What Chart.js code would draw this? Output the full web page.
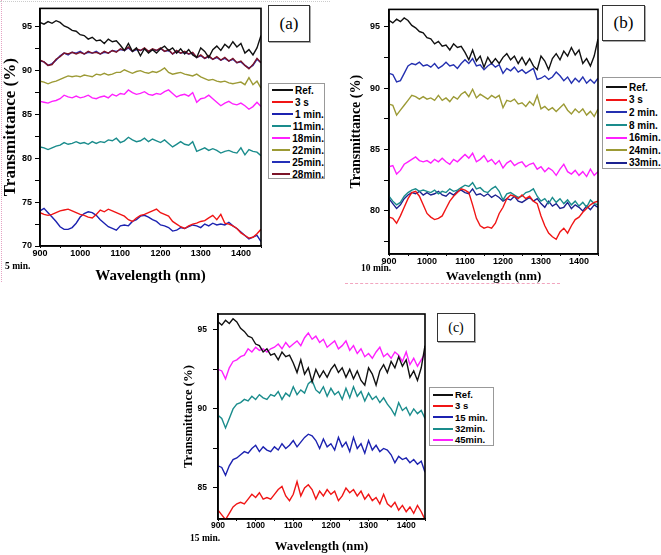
<!DOCTYPE html>
<html>
<head>
<meta charset="utf-8">
<script src="https://cdn.jsdelivr.net/npm/chart.js@4.4.1/dist/chart.umd.min.js"></script>
<style>
  body { margin: 0; background: #fff; width: 661px; height: 555px; position: relative; overflow: hidden; }
  canvas { position: absolute; }
  .tag { position: absolute; box-sizing: border-box; border: 1px solid #333; background: #fff; box-shadow: 1px 1px 0 #aaa;
         font-family: "Liberation Serif", "Times New Roman", serif; color: #000; text-align: center; }
  .leg { position: absolute; box-sizing: border-box; border: 1px solid #999; background: #fff; color: #000;
         font-family: "Liberation Sans", Arial, sans-serif; font-weight: bold; }
  .leg .row { display: flex; align-items: center; white-space: nowrap; }
  .leg .sw { display: inline-block; height: 0; border-top: 2px solid; }
  .nota { position: absolute; font: bold 9.5px "Liberation Serif", "Times New Roman", serif; color: #000; white-space: nowrap; }
</style>
</head>
<body>
<div style="position:absolute;left:1px;top:0;height:282px;border-left:1px dotted #e6a3c3"></div>
<div style="position:absolute;left:0;top:1px;width:330px;border-top:1px dotted #ccc"></div>
<div style="position:absolute;left:345px;top:283px;width:215px;border-top:1px dashed #f2a5bf"></div>

<canvas id="graficoA" width="262" height="285" style="left:0;top:0"></canvas>
<canvas id="graficoB" width="251" height="284" style="left:348px;top:0"></canvas>
<canvas id="graficoC" width="245" height="254" style="left:181px;top:300px"></canvas>

<div class="tag" style="left:268px;top:5px;width:42px;height:37px;font-size:17px;line-height:35px">(a)</div>
<div class="tag" style="left:602px;top:5px;width:43px;height:36px;font-size:17px;line-height:34px">(b)</div>
<div class="tag" style="left:437px;top:313px;width:38px;height:29px;font-size:14px;line-height:27px">(c)</div>

<div class="leg" id="legendaA" style="left:268px;top:83px;width:57px;height:96px;font-size:10px"></div>
<div class="leg" id="legendaB" style="left:602px;top:77px;width:62px;height:92px;font-size:10px;padding-top:3px"></div>
<div class="leg" id="legendaC" style="left:429px;top:387px;width:65px;height:59px;font-size:9.5px;padding-top:1px"></div>

<div class="nota" style="left:5px;top:261px">5 min.</div>
<div class="nota" style="left:361px;top:263px">10 min.</div>
<div class="nota" style="left:190px;top:533px">15 min.</div>

<script>
const wl = [900, 910, 920, 930, 940, 950, 960, 970, 980, 990,
  1000, 1010, 1020, 1030, 1040, 1050, 1060, 1070, 1080, 1090,
  1100, 1110, 1120, 1130, 1140, 1150, 1160, 1170, 1180, 1190,
  1200, 1210, 1220, 1230, 1240, 1250, 1260, 1270, 1280, 1290,
  1300, 1310, 1320, 1330, 1340, 1350, 1360, 1370, 1380, 1390,
  1400, 1410, 1420, 1430, 1440, 1450]

const ref = [95.5, 95.3, 95.6, 95.4, 95.7, 95.5, 95.1, 94.9, 94.6, 94.5,
  94.1, 94.0, 93.6, 93.8, 93.4, 93.5, 93.1, 93.6, 93.3, 93.4,
  92.9, 92.3, 93.1, 92.2, 92.6, 91.7, 92.5, 92.0, 92.4, 92.0,
  92.5, 92.8, 92.3, 92.6, 92.0, 92.5, 91.9, 92.4, 91.8, 91.5,
  92.6, 92.2, 91.5, 92.4, 92.8, 92.3, 93.0, 92.6, 93.3, 92.7,
  93.1, 92.0, 92.4, 91.8, 92.6, 94.0]

// painel (a)
const a3s = [73.8, 73.6, 73.5, 73.6, 73.8, 74.0, 74.1, 74.2, 74.0, 73.8,
  73.6, 73.5, 73.3, 73.2, 73.6, 74.1, 73.9, 74.2, 74.0, 73.8,
  73.6, 73.4, 73.0, 72.8, 73.2, 73.5, 73.6, 73.8, 74.0, 74.2,
  73.8, 73.6, 73.4, 72.8, 72.5, 72.2, 72.0, 72.3, 72.5, 72.6,
  72.8, 72.9, 73.2, 73.5, 73.0, 73.6, 72.6, 72.5, 72.3, 72.0,
  71.5, 71.2, 70.9, 71.0, 71.4, 71.9]
const a1min = [74.0, 74.3, 73.8, 73.3, 72.8, 72.2, 71.9, 71.9, 72.1, 72.6,
  73.3, 73.7, 73.9, 73.8, 73.5, 73.0, 72.6, 72.2, 72.0, 71.8,
  72.3, 72.4, 72.3, 72.8, 73.0, 73.4, 73.5, 73.3, 73.0, 72.8,
  72.4, 72.3, 72.1, 71.7, 71.8, 72.1, 72.0, 72.2, 72.4, 72.3,
  72.1, 72.5, 72.3, 72.6, 72.4, 72.5, 72.4, 72.7, 72.3, 72.0,
  71.6, 71.2, 70.8, 71.0, 71.2, 70.5]
const a11min = [81.3, 81.2, 81.0, 81.2, 81.4, 81.5, 81.8, 81.6, 81.7, 81.9,
  81.7, 81.8, 81.6, 81.9, 81.7, 81.9, 81.8, 82.1, 82.0, 82.3,
  81.8, 82.0, 82.4, 82.1, 81.9, 82.0, 82.3, 81.9, 82.2, 82.0,
  81.8, 82.1, 81.7, 81.3, 81.6, 81.9, 81.6, 81.5, 81.9, 80.8,
  81.0, 81.2, 80.9, 81.1, 80.9, 80.6, 80.8, 80.9, 80.7, 80.6,
  81.2, 80.4, 81.0, 80.8, 80.7, 80.3]
const a18min = [86.5, 86.4, 86.3, 86.5, 86.6, 86.8, 87.2, 87.0, 86.9, 87.1,
  86.9, 87.0, 87.2, 86.9, 86.8, 87.0, 87.1, 86.9, 87.3, 87.1,
  87.4, 87.3, 87.8, 87.5, 87.3, 87.4, 87.6, 87.3, 87.2, 87.4,
  87.3, 87.6, 87.8, 87.4, 87.0, 87.2, 87.3, 87.1, 87.5, 86.4,
  86.8, 86.9, 87.2, 86.8, 86.4, 86.0, 86.3, 86.5, 86.2, 86.1,
  86.3, 86.0, 85.6, 85.9, 86.4, 85.9]
const a22min = [88.8, 88.7, 88.5, 88.7, 88.8, 89.0, 89.2, 89.4, 89.3, 89.4,
  89.3, 89.5, 89.4, 89.3, 89.6, 89.5, 89.7, 89.5, 89.6, 89.8,
  89.8, 90.1, 89.9, 89.7, 89.9, 90.0, 89.8, 89.7, 89.9, 89.8,
  90.0, 90.3, 89.8, 89.6, 89.7, 89.8, 89.6, 89.5, 89.4, 89.6,
  89.3, 89.1, 88.9, 89.0, 88.8, 88.7, 88.8, 88.6, 88.5, 88.6,
  88.7, 88.4, 89.2, 88.4, 88.8, 88.0]
const a25min = [91.1, 91.0, 90.6, 90.8, 91.2, 91.7, 92.0, 91.8, 92.1, 92.0,
  92.2, 91.9, 92.1, 92.0, 92.2, 91.9, 92.1, 92.0, 92.3, 92.2,
  92.4, 92.3, 92.6, 92.2, 92.4, 92.3, 92.5, 92.2, 92.4, 92.3,
  92.5, 92.2, 92.3, 91.9, 92.2, 92.0, 92.1, 91.9, 92.0, 91.5,
  91.7, 91.4, 91.6, 91.3, 91.5, 91.2, 91.4, 91.1, 91.3, 90.9,
  91.0, 90.6, 90.3, 90.6, 91.3, 90.9]
const a28min = [91.2, 91.0, 90.6, 90.7, 91.3, 91.6, 92.0, 91.9, 92.1, 91.9,
  92.1, 91.9, 92.2, 92.0, 92.1, 91.9, 92.2, 92.0, 92.3, 92.1,
  92.5, 92.3, 92.7, 92.2, 92.5, 92.3, 92.6, 92.2, 92.5, 92.3,
  92.6, 92.2, 92.4, 91.9, 92.3, 92.0, 92.2, 91.9, 92.1, 91.5,
  91.8, 91.4, 91.7, 91.3, 91.6, 91.2, 91.5, 91.1, 91.4, 90.9,
  91.1, 90.6, 90.2, 90.7, 91.4, 90.9]

// painel (b)
const b3s = [79.5, 79.4, 79.0, 79.6, 80.3, 81.0, 81.5, 81.6, 81.2, 80.5,
  79.8, 79.5, 79.3, 79.4, 79.6, 80.2, 80.8, 81.2, 81.5, 81.8,
  81.7, 81.5, 80.5, 79.4, 78.8, 78.6, 78.7, 78.6, 79.0, 79.8,
  80.3, 81.0, 81.3, 81.2, 81.0, 81.3, 81.0, 81.2, 80.8, 80.6,
  79.6, 78.8, 78.2, 77.9, 77.7, 78.3, 78.6, 78.2, 78.8, 79.3,
  79.5, 79.9, 80.2, 80.5, 80.7, 80.8]
const b2min = [91.2, 91.1, 90.5, 90.6, 91.2, 91.8, 92.0, 91.9, 92.1, 91.8,
  91.9, 91.7, 92.0, 91.6, 91.8, 92.1, 91.8, 91.9, 91.6, 92.0,
  92.3, 92.0, 92.4, 91.8, 91.9, 91.5, 91.8, 92.0, 91.7, 91.9,
  91.2, 91.6, 91.4, 91.7, 91.3, 91.5, 91.2, 91.4, 91.6, 90.7,
  90.8, 91.0, 90.7, 90.9, 91.3, 91.0, 90.6, 90.9, 90.4, 90.8,
  90.5, 90.9, 90.4, 90.7, 90.4, 90.8]
const b8min = [81.2, 80.8, 80.5, 80.7, 81.2, 81.5, 81.7, 81.8, 81.6, 81.7,
  81.6, 81.5, 81.7, 81.4, 81.6, 81.5, 81.8, 81.6, 81.7, 81.9,
  82.1, 82.0, 82.3, 81.8, 81.9, 81.6, 81.5, 81.8, 82.0, 81.6,
  80.9, 81.4, 81.5, 81.3, 81.1, 81.2, 81.5, 81.6, 81.8, 81.2,
  80.8, 81.0, 80.6, 81.1, 80.7, 81.0, 80.6, 80.9, 80.5, 80.8,
  80.4, 80.7, 80.3, 80.9, 80.6, 80.5]
const b16min = [83.6, 83.7, 83.0, 83.3, 83.8, 84.0, 84.2, 84.4, 84.1, 84.0,
  84.1, 83.9, 84.2, 84.0, 84.3, 84.0, 83.8, 84.2, 84.0, 84.3,
  84.6, 84.3, 84.7, 84.0, 84.2, 84.5, 84.0, 84.2, 83.8, 84.1,
  83.5, 83.9, 84.1, 83.7, 83.9, 84.0, 83.6, 83.8, 83.9, 83.4,
  83.6, 83.2, 83.5, 83.3, 82.9, 83.4, 83.8, 83.2, 83.0, 83.3,
  82.9, 83.2, 82.8, 83.4, 82.9, 83.2]
const b24min = [88.7, 88.6, 87.8, 88.2, 88.6, 89.0, 89.4, 89.3, 89.1, 89.3,
  89.1, 89.2, 89.0, 89.4, 89.0, 89.2, 88.9, 89.3, 89.1, 89.5,
  89.7, 89.3, 89.9, 89.2, 89.5, 89.3, 89.1, 89.4, 89.2, 89.4,
  88.4, 89.0, 88.9, 89.1, 88.7, 88.8, 88.5, 88.9, 88.6, 89.4,
  88.3, 88.5, 88.2, 88.4, 88.1, 88.4, 88.7, 88.2, 87.9, 88.3,
  88.0, 88.3, 87.8, 88.1, 87.7, 88.3]
const b33min = [81.0, 80.6, 80.2, 80.5, 81.0, 81.3, 81.5, 81.4, 81.6, 81.3,
  81.5, 81.3, 81.4, 81.6, 81.3, 81.2, 81.5, 81.3, 81.6, 81.7,
  81.5, 81.4, 81.8, 81.3, 81.4, 81.2, 81.4, 81.1, 81.3, 81.1,
  80.8, 81.0, 80.9, 81.2, 80.8, 80.7, 80.9, 81.1, 80.8, 81.0,
  80.6, 80.3, 80.8, 80.4, 80.6, 80.2, 80.3, 80.7, 80.2, 80.5,
  80.3, 80.0, 80.4, 80.1, 80.5, 80.3]

// painel (c)
const c3s = [83.6, 83.3, 83.0, 83.4, 83.8, 84.0, 84.1, 84.0, 84.3, 84.6,
  84.4, 84.7, 84.3, 84.4, 84.3, 84.6, 84.9, 85.1, 84.5, 84.2,
  84.6, 85.4, 84.5, 85.0, 85.2, 84.9, 84.3, 84.8, 84.5, 84.9,
  84.6, 84.8, 84.2, 84.5, 85.0, 84.7, 84.9, 84.5, 84.8, 84.3,
  84.6, 84.2, 84.4, 84.0, 84.6, 84.0, 83.8, 84.1, 83.6, 83.9,
  83.5, 83.8, 83.4, 83.9, 83.5, 83.0]
const c15min = [86.4, 86.3, 85.8, 86.4, 86.8, 86.9, 87.1, 87.3, 87.2, 87.5,
  87.7, 87.3, 87.6, 87.4, 87.3, 87.6, 87.4, 87.8, 87.5, 87.7,
  88.0, 87.6, 87.9, 88.2, 88.4, 88.3, 88.0, 87.5, 88.1, 87.6,
  87.8, 87.4, 88.2, 87.6, 87.9, 87.3, 88.2, 87.5, 87.8, 87.2,
  88.0, 87.4, 87.7, 87.3, 87.5, 87.4, 87.1, 86.6, 87.0, 86.8,
  86.9, 86.6, 86.8, 86.5, 86.7, 86.0]
const c32min = [89.6, 89.4, 88.8, 89.4, 90.0, 90.3, 90.4, 90.6, 90.5, 90.8,
  90.6, 90.9, 90.7, 90.6, 90.9, 90.8, 91.1, 90.6, 91.0, 90.8,
  91.4, 90.9, 91.2, 91.0, 91.6, 91.8, 91.2, 91.0, 91.4, 90.8,
  91.3, 90.9, 91.1, 90.6, 91.3, 90.7, 91.4, 90.8, 91.1, 90.5,
  91.0, 90.6, 90.8, 90.4, 90.7, 90.3, 90.0, 89.6, 90.4, 89.9,
  90.1, 89.6, 90.0, 89.7, 89.9, 89.4]
const c45min = [92.5, 92.4, 91.9, 92.6, 93.0, 93.1, 93.3, 93.4, 93.8, 93.6,
  93.9, 93.7, 93.8, 93.6, 93.8, 93.9, 94.1, 93.8, 94.2, 93.9,
  94.1, 94.3, 94.0, 94.5, 94.8, 94.4, 94.6, 94.2, 94.4, 93.9,
  94.1, 94.3, 93.8, 94.0, 94.3, 93.7, 94.0, 93.5, 93.8, 93.3,
  93.5, 93.2, 93.6, 93.9, 93.3, 93.5, 93.2, 93.6, 93.4, 93.0,
  93.6, 92.8, 93.2, 92.7, 93.1, 93.5]

const serif = '"Liberation Serif", "Times New Roman", serif'
const sans = '"Liberation Sans Narrow", "Liberation Sans", Arial, sans-serif'

function pontos(ys) {
  return ys.map((y, i) => ({ x: wl[i], y: y }))
}

const moldura = {
  id: 'moldura',
  afterDatasetsDraw(chart) {
    const { ctx, chartArea: a } = chart
    ctx.save()
    ctx.strokeStyle = '#000'
    ctx.lineWidth = 1.6
    ctx.strokeRect(a.left, a.top, a.right - a.left, a.bottom - a.top)
    ctx.restore()
  }
}

function criaGrafico(id, series, cfg) {
  return new Chart(document.getElementById(id), {
    type: 'line',
    data: {
      datasets: series.map(s => ({
        label: s[0],
        data: pontos(s[1]),
        borderColor: s[2],
        order: s[3] || 0,
        borderWidth: 1.4,
        pointRadius: 0,
        tension: 0,
        fill: false,
      })),
    },
    options: {
      responsive: false,
      animation: false,
      events: [],
      layout: { padding: cfg.pad },
      plugins: { legend: { display: false }, tooltip: { enabled: false } },
      scales: {
        x: {
          type: 'linear',
          min: 900,
          max: 1450,
          afterFit: s => { s.height = cfg.xh },
          grid: { drawOnChartArea: false, tickLength: 2, tickColor: '#000' },
          border: { color: '#000', width: 1.6 },
          ticks: {
            stepSize: 50, autoSkip: false, maxRotation: 0, padding: 0, color: '#000',
            font: { family: sans, weight: 'bold', size: cfg.tf },
            callback: v => v % 100 === 0 ? v : '',
          },
          title: {
            display: true, text: 'Wavelength (nm)', color: '#000', padding: 0,
            font: { family: serif, weight: 'bold', size: cfg.xt },
          },
        },
        y: {
          min: cfg.min,
          max: cfg.max,
          afterFit: s => { s.width = cfg.yw },
          grid: { drawOnChartArea: false, tickLength: 5, tickColor: '#000' },
          border: { color: '#000', width: 1.6 },
          ticks: {
            stepSize: 2.5, includeBounds: false, padding: cfg.yp, color: '#000',
            font: { family: sans, weight: 'bold', size: cfg.tf },
            callback: v => v % 5 === 0 ? v : '',
          },
          title: {
            display: true, text: 'Transmittance (%)', color: '#000', padding: 0,
            font: { family: serif, weight: 'bold', size: cfg.yt },
          },
        },
      },
    },
    plugins: [moldura],
  })
}

function legenda(grafico, id, linha, amostra) {
  const el = document.getElementById(id)
  el.innerHTML = grafico.data.datasets.map(ds =>
    '<div class="row" style="height:' + linha + 'px"><span class="sw" style="border-color:' + ds.borderColor +
    ';width:' + amostra + 'px;margin:0 2px 0 3px"></span>' + ds.label + '</div>'
  ).join('')
}

// GRAFICO A
const graficoA = criaGrafico('graficoA', [
  ['Ref.', ref, '#111111'],
  ['3 s', a3s, '#f01515'],
  ['1 min.', a1min, '#1c22b0', 1],
  ['11min.', a11min, '#1a8c8c'],
  ['18min.', a18min, '#ff20ff'],
  ['22min.', a22min, '#9c9a35'],
  ['25min.', a25min, '#2430b8', 1],
  ['28min.', a28min, '#7c1428'],
], { pad: { left: 0, top: 5, right: 1, bottom: 0 }, yw: 40, xh: 39, min: 70, max: 97.1, tf: 9, yp: 3, xt: 15, yt: 17 })
legenda(graficoA, 'legendaA', 12, 21)

// GRAFICO B
const graficoB = criaGrafico('graficoB', [
  ['Ref.', ref, '#111111'],
  ['3 s', b3s, '#f01515'],
  ['2 min.', b2min, '#2430b0'],
  ['8 min.', b8min, '#1a8c8c'],
  ['16min.', b16min, '#ff20ff'],
  ['24min.', b24min, '#9c9a35'],
  ['33min.', b33min, '#1c2290'],
], { pad: { left: 0, top: 5, right: 1, bottom: 0 }, yw: 41, xh: 30, min: 76.5, max: 96.4, tf: 9, yp: 4, xt: 13, yt: 14 })
legenda(graficoB, 'legendaB', 12.6, 21)

// GRAFICO C
const graficoC = criaGrafico('graficoC', [
  ['Ref.', ref, '#111111'],
  ['3 s', c3s, '#f01515'],
  ['15 min.', c15min, '#1c22b0'],
  ['32min.', c32min, '#1a8c8c'],
  ['45min.', c45min, '#ff20ff'],
], { pad: { left: 0, top: 14, right: 1, bottom: 0 }, yw: 37, xh: 35, min: 83.04, max: 96, tf: 8.5, yp: 6, xt: 12.7, yt: 12.7 })
legenda(graficoC, 'legendaC', 11.3, 20)
</script>
</body>
</html>
